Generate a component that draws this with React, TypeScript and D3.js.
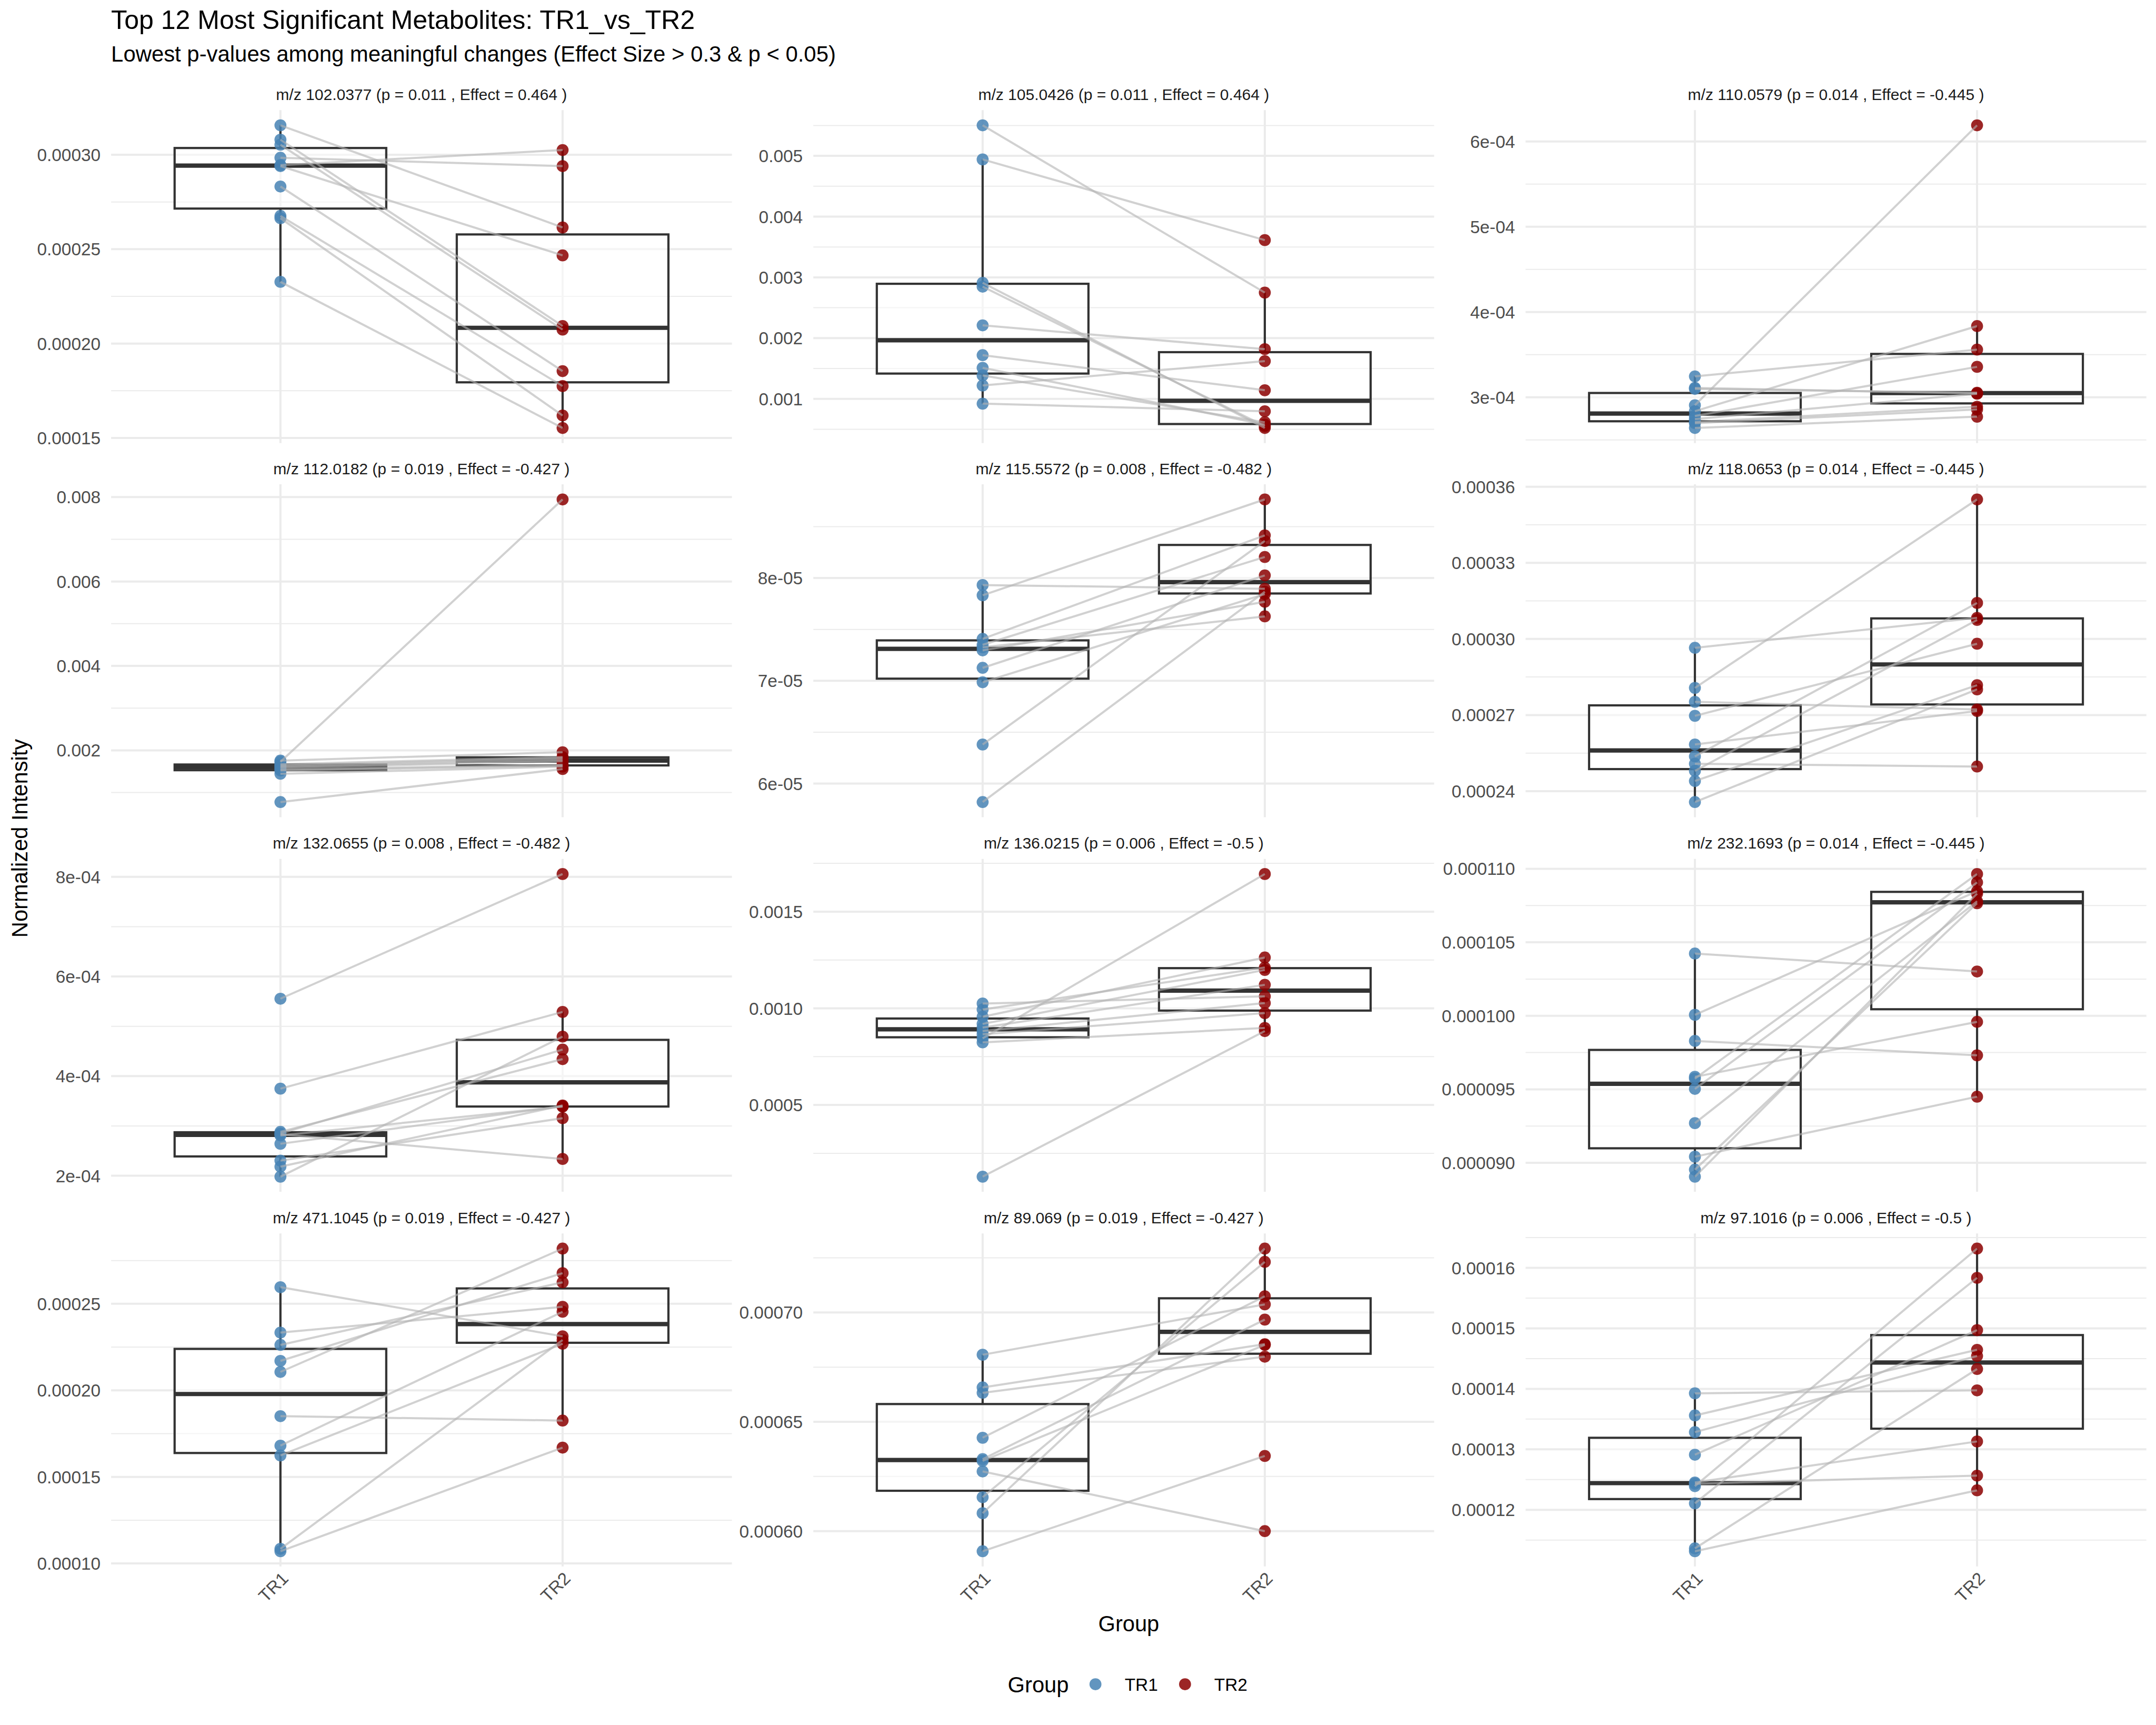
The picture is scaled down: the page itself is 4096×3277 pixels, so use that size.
import { useEffect, useRef } from "react";
import * as d3 from "d3";

// groups and colours
const groups = ["TR1", "TR2"];
const groupColors = ["#4682B4", "#8B0000"];

// facet labels
const mzValues = ["102.0377", "105.0426", "110.0579", "112.0182", "115.5572", "118.0653", "132.0655", "136.0215", "232.1693", "471.1045", "89.069", "97.1016"];
const pValues = ["0.011", "0.011", "0.014", "0.019", "0.008", "0.014", "0.008", "0.006", "0.014", "0.019", "0.019", "0.006"];
const effectSizes = ["0.464", "0.464", "-0.445", "-0.427", "-0.482", "-0.445", "-0.482", "-0.5", "-0.445", "-0.427", "-0.427", "-0.5"];

// paired samples: tr1Values[i][k] is linked to tr2Values[i][k]
const tr1Values = [
  [3.156e-4, 3.080e-4, 3.053e-4, 2.984e-4, 2.945e-4, 2.940e-4, 2.832e-4, 2.676e-4, 2.664e-4, 2.327e-4],
  [5.503e-3, 4.941e-3, 2.910e-3, 2.847e-3, 2.210e-3, 1.719e-3, 1.511e-3, 1.385e-3, 1.220e-3, 0.921e-3],
  [3.245e-4, 3.110e-4, 3.098e-4, 2.907e-4, 2.837e-4, 2.781e-4, 2.744e-4, 2.710e-4, 2.696e-4, 2.640e-4],
  [1.728e-3, 0.774e-3, 1.444e-3, 1.523e-3, 1.546e-3, 1.586e-3, 1.614e-3, 1.642e-3, 1.671e-3, 1.756e-3],
  [7.932e-5, 7.832e-5, 7.408e-5, 7.350e-5, 7.326e-5, 7.296e-5, 7.126e-5, 6.986e-5, 6.380e-5, 5.820e-5],
  [2.965e-4, 2.807e-4, 2.752e-4, 2.697e-4, 2.584e-4, 2.537e-4, 2.508e-4, 2.480e-4, 2.440e-4, 2.357e-4],
  [5.554e-4, 3.748e-4, 2.881e-4, 2.848e-4, 2.833e-4, 2.809e-4, 2.641e-4, 2.303e-4, 2.183e-4, 1.981e-4],
  [1.0248e-3, 0.9938e-3, 0.9566e-3, 0.9194e-3, 0.9007e-3, 0.8821e-3, 0.8660e-3, 0.8449e-3, 0.8238e-3, 0.1290e-3],
  [1.04235e-4, 1.00065e-4, 0.9829e-4, 0.9585e-4, 0.9573e-4, 0.9503e-4, 0.9270e-4, 0.9042e-4, 0.8954e-4, 0.8906e-4],
  [2.5961e-4, 2.3335e-4, 2.2626e-4, 2.1703e-4, 2.1064e-4, 1.8510e-4, 1.6807e-4, 1.6239e-4, 1.0846e-4, 1.0704e-4],
  [6.8067e-4, 6.6573e-4, 6.6326e-4, 6.4270e-4, 6.3292e-4, 6.3213e-4, 6.2730e-4, 6.1551e-4, 6.0820e-4, 5.9079e-4],
  [1.3926e-4, 1.3560e-4, 1.3284e-4, 1.2911e-4, 1.2452e-4, 1.2431e-4, 1.2391e-4, 1.2107e-4, 1.1363e-4, 1.1315e-4],
];

const tr2Values = [
  [2.615e-4, 2.093e-4, 2.074e-4, 2.940e-4, 3.025e-4, 2.467e-4, 1.854e-4, 1.775e-4, 1.619e-4, 1.553e-4],
  [2.749e-3, 3.613e-3, 0.521e-3, 0.552e-3, 1.818e-3, 1.142e-3, 0.576e-3, 0.615e-3, 1.621e-3, 0.796e-3],
  [3.559e-4, 3.045e-4, 3.053e-4, 6.190e-4, 3.835e-4, 3.357e-4, 3.042e-4, 2.890e-4, 2.857e-4, 2.772e-4],
  [7.944e-3, 1.557e-3, 1.614e-3, 1.637e-3, 1.659e-3, 1.739e-3, 1.773e-3, 1.813e-3, 1.841e-3, 1.955e-3],
  [7.895e-5, 8.765e-5, 8.415e-5, 8.205e-5, 7.627e-5, 7.769e-5, 8.026e-5, 7.844e-5, 8.361e-5, 7.867e-5],
  [3.083e-4, 3.550e-4, 2.722e-4, 2.981e-4, 2.716e-4, 3.142e-4, 2.497e-4, 3.075e-4, 2.818e-4, 2.801e-4],
  [8.058e-4, 5.289e-4, 4.341e-4, 4.533e-4, 2.337e-4, 3.387e-4, 3.397e-4, 3.156e-4, 3.411e-4, 4.793e-4],
  [1.0620e-3, 1.2109e-3, 1.2630e-3, 1.1985e-3, 1.1216e-3, 1.0273e-3, 0.9752e-3, 1.6948e-3, 0.8983e-3, 0.8821e-3],
  [1.03013e-4, 1.08469e-4, 0.9731e-4, 0.9959e-4, 1.09642e-4, 1.09072e-4, 1.07785e-4, 0.9450e-4, 1.07655e-4, 1.08306e-4],
  [2.3122e-4, 2.4825e-4, 2.6244e-4, 2.6770e-4, 2.8189e-4, 1.8254e-4, 2.4541e-4, 2.2696e-4, 2.2909e-4, 1.6693e-4],
  [7.0371e-4, 6.8551e-4, 6.7978e-4, 7.0742e-4, 6.9674e-4, 6.8517e-4, 6.0000e-4, 7.2315e-4, 7.2921e-4, 6.3438e-4],
  [1.3975e-4, 1.4645e-4, 1.4543e-4, 1.4970e-4, 1.3130e-4, 1.2565e-4, 1.6318e-4, 1.5835e-4, 1.4328e-4, 1.2322e-4],
];

// y axis breaks per facet (free scales)
const yTickValues = [
  [0.00015, 0.0002, 0.00025, 0.0003],
  [0.001, 0.002, 0.003, 0.004, 0.005],
  [3e-4, 4e-4, 5e-4, 6e-4],
  [0.002, 0.004, 0.006, 0.008],
  [6e-5, 7e-5, 8e-5],
  [0.00024, 0.00027, 0.0003, 0.00033, 0.00036],
  [2e-4, 4e-4, 6e-4, 8e-4],
  [0.0005, 0.001, 0.0015],
  [9e-5, 9.5e-5, 1e-4, 1.05e-4, 1.1e-4],
  [1e-4, 1.5e-4, 2e-4, 2.5e-4],
  [6e-4, 6.5e-4, 7e-4],
  [1.2e-4, 1.3e-4, 1.4e-4, 1.5e-4, 1.6e-4],
];
const yTickLabels = [
  ["0.00015", "0.00020", "0.00025", "0.00030"],
  ["0.001", "0.002", "0.003", "0.004", "0.005"],
  ["3e-04", "4e-04", "5e-04", "6e-04"],
  ["0.002", "0.004", "0.006", "0.008"],
  ["6e-05", "7e-05", "8e-05"],
  ["0.00024", "0.00027", "0.00030", "0.00033", "0.00036"],
  ["2e-04", "4e-04", "6e-04", "8e-04"],
  ["0.0005", "0.0010", "0.0015"],
  ["0.000090", "0.000095", "0.000100", "0.000105", "0.000110"],
  ["0.00010", "0.00015", "0.00020", "0.00025"],
  ["0.00060", "0.00065", "0.00070"],
  ["0.00012", "0.00013", "0.00014", "0.00015", "0.00016"],
];

const W = 4500;
const H = 3600;
const SCALE = 0.91;
const FONT = "'Liberation Sans', Arial, Helvetica, sans-serif";

// facet layout (reference pixels)
const colLeft = [232, 1698, 3185];
const rowTop = [230, 1011, 1793, 2575];
const panelW = 1296;
const panelH = 695;
const pointR = 12.5;

const boxStats = (vals: number[]) => {
  const s = [...vals].sort(d3.ascending);
  const q1 = d3.quantileSorted(s, 0.25)!;
  const med = d3.quantileSorted(s, 0.5)!;
  const q3 = d3.quantileSorted(s, 0.75)!;
  const iqr = q3 - q1;
  const lo = d3.min(s.filter((v) => v >= q1 - 1.5 * iqr))!;
  const hi = d3.max(s.filter((v) => v <= q3 + 1.5 * iqr))!;
  return { q1, med, q3, lo, hi };
};

export default function App() {
  const svgRef = useRef<SVGSVGElement | null>(null);

  useEffect(() => {
    if (!svgRef.current) return;
    const svg = d3.select(svgRef.current);
    svg.selectAll("*").remove();
    svg.append("rect").attr("width", W).attr("height", H).attr("fill", "#fff");

    const root = svg.append("g").attr("font-family", FONT);

    // titles
    root.append("text").attr("x", 232).attr("y", 61)
      .attr("font-size", 55).attr("fill", "#000")
      .text("Top 12 Most Significant Metabolites: TR1_vs_TR2");
    root.append("text").attr("x", 232).attr("y", 129)
      .attr("font-size", 46).attr("fill", "#000")
      .text("Lowest p-values among meaningful changes (Effect Size > 0.3 & p < 0.05)");

    mzValues.forEach((mz, i) => {
      const col = i % 3;
      const row = Math.floor(i / 3);
      const left = colLeft[col];
      const top = rowTop[row];
      const tr1 = tr1Values[i];
      const tr2 = tr2Values[i];
      const all = tr1.concat(tr2);
      const [mn, mx] = d3.extent(all) as [number, number];
      const pad = (mx - mn) * 0.05;

      const x = d3.scalePoint<string>().domain(groups).range([left, left + panelW]).padding(0.6);
      const y = d3.scaleLinear().domain([mn - pad, mx + pad]).range([top + panelH, top]);
      const step = x.step();

      const g = root.append("g");

      // grid
      const ticks = yTickValues[i];
      const tStep = ticks[1] - ticks[0];
      const minors = [ticks[0] - tStep / 2, ...ticks.map((t) => t + tStep / 2)]
        .filter((v) => v >= y.domain()[0] && v <= y.domain()[1]);
      g.selectAll(".minor").data(minors).enter().append("line")
        .attr("x1", left).attr("x2", left + panelW)
        .attr("y1", (d) => y(d)).attr("y2", (d) => y(d))
        .attr("stroke", "#EBEBEB").attr("stroke-width", 2.2);
      g.selectAll(".major").data(ticks).enter().append("line")
        .attr("x1", left).attr("x2", left + panelW)
        .attr("y1", (d) => y(d)).attr("y2", (d) => y(d))
        .attr("stroke", "#EBEBEB").attr("stroke-width", 4.4);
      g.selectAll(".vgrid").data(groups).enter().append("line")
        .attr("x1", (d) => x(d)!).attr("x2", (d) => x(d)!)
        .attr("y1", top).attr("y2", top + panelH)
        .attr("stroke", "#EBEBEB").attr("stroke-width", 4.4);

      // y tick labels
      g.selectAll(".ylab").data(ticks).enter().append("text")
        .attr("x", left - 22).attr("y", (d) => y(d)).attr("dy", "0.36em")
        .attr("text-anchor", "end").attr("font-size", 36.7).attr("fill", "#4D4D4D")
        .text((_, k) => yTickLabels[i][k]);

      // strip
      g.append("text")
        .attr("x", left + panelW / 2).attr("y", top - 33).attr("dy", "0.36em")
        .attr("text-anchor", "middle").attr("font-size", 33).attr("fill", "#1A1A1A")
        .text(`m/z ${mz} (p = ${pValues[i]} , Effect = ${effectSizes[i]} )`);

      // boxplots
      [tr1, tr2].forEach((vals, gi) => {
        const s = boxStats(vals);
        const cx = x(groups[gi])!;
        const bw = step * 0.75;
        g.append("line").attr("x1", cx).attr("x2", cx)
          .attr("y1", y(s.q3)).attr("y2", y(s.hi))
          .attr("stroke", "#333333").attr("stroke-width", 4.6);
        g.append("line").attr("x1", cx).attr("x2", cx)
          .attr("y1", y(s.q1)).attr("y2", y(s.lo))
          .attr("stroke", "#333333").attr("stroke-width", 4.6);
        g.append("rect")
          .attr("x", cx - bw / 2).attr("width", bw)
          .attr("y", y(s.q3)).attr("height", y(s.q1) - y(s.q3))
          .attr("fill", "#fff").attr("fill-opacity", 0.5)
          .attr("stroke", "#333333").attr("stroke-width", 4.6);
        g.append("line").attr("x1", cx - bw / 2).attr("x2", cx + bw / 2)
          .attr("y1", y(s.med)).attr("y2", y(s.med))
          .attr("stroke", "#333333").attr("stroke-width", 9);
      });

      // points
      [tr1, tr2].forEach((vals, gi) => {
        g.selectAll(`.pt${gi}`).data(vals).enter().append("circle")
          .attr("cx", x(groups[gi])!).attr("cy", (d) => y(d)).attr("r", pointR)
          .attr("fill", groupColors[gi]).attr("fill-opacity", 0.85);
      });

      // paired lines
      const pairs = tr1.map((v, k) => [v, tr2[k]]);
      const line = d3.line<[string, number]>().x((d) => x(d[0])!).y((d) => y(d[1]));
      g.selectAll(".pair").data(pairs).enter().append("path")
        .attr("d", (d) => line([[groups[0], d[0]], [groups[1], d[1]]]))
        .attr("fill", "none").attr("stroke", "#B3B3B3").attr("stroke-opacity", 0.6)
        .attr("stroke-width", 4.4);

      // x labels on the bottom row
      if (row === 3) {
        g.selectAll(".xlab").data(groups).enter().append("text")
          .attr("transform", (d) => `translate(${x(d)},${top + panelH + 9}) rotate(-45)`)
          .attr("dy", "0.72em").attr("text-anchor", "end")
          .attr("font-size", 36.7).attr("fill", "#4D4D4D")
          .text((d) => d);
      }
    });

    // axis titles
    root.append("text")
      .attr("transform", `translate(41,1750) rotate(-90)`)
      .attr("dy", "0.36em").attr("text-anchor", "middle")
      .attr("font-size", 45.8).attr("fill", "#000")
      .text("Normalized Intensity");
    root.append("text")
      .attr("x", (colLeft[0] + colLeft[2] + panelW) / 2).attr("y", 3389).attr("dy", "0.36em")
      .attr("text-anchor", "middle").attr("font-size", 45.8).attr("fill", "#000")
      .text("Group");

    // legend
    const legend = root.append("g");
    legend.append("text").attr("x", 2104).attr("y", 3516).attr("dy", "0.36em")
      .attr("font-size", 45.8).attr("fill", "#000").text("Group");
    const keyX = [2287, 2474];
    groups.forEach((grp, gi) => {
      legend.append("circle").attr("cx", keyX[gi]).attr("cy", 3516).attr("r", pointR)
        .attr("fill", groupColors[gi]).attr("fill-opacity", 0.85);
      legend.append("text").attr("x", keyX[gi] + 61).attr("y", 3516).attr("dy", "0.36em")
        .attr("font-size", 36.7).attr("fill", "#000").text(grp);
    });
  }, []);

  return (
    <svg
      ref={svgRef}
      width={W * SCALE}
      height={H * SCALE}
      viewBox={`0 0 ${W} ${H}`}
      style={{ position: "absolute", left: 0, top: 0, display: "block" }}
    />
  );
}
